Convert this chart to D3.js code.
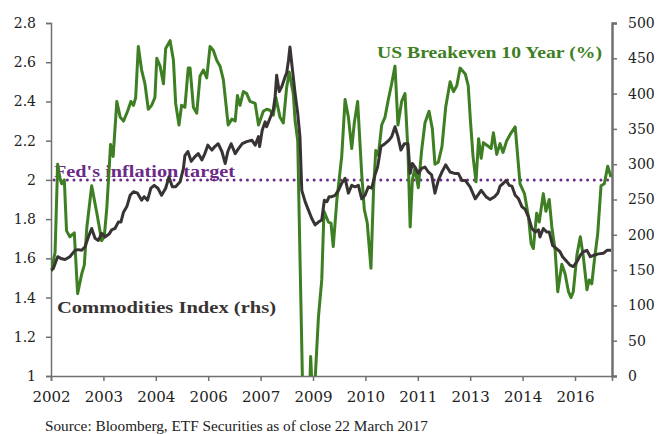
<!DOCTYPE html>
<html>
<head>
<meta charset="utf-8">
<script src="https://cdn.jsdelivr.net/npm/d3@7"></script>
<style>
  body { margin: 0; background: #fff; }
  text { font-family: "DejaVu Serif", "Liberation Serif", serif; }
</style>
</head>
<body>
<div id="chart"></div>
<script>
// US breakeven 10 year (%), left axis
var beDates = [2002.00, 2002.11, 2002.18, 2002.24, 2002.29, 2002.36, 2002.42, 2002.51, 2002.63, 2002.72, 2002.83, 2002.90, 2002.97,
  2003.10, 2003.24, 2003.37, 2003.44, 2003.51, 2003.61, 2003.68, 2003.78, 2003.87, 2003.96,
  2004.07, 2004.16, 2004.23, 2004.29, 2004.36, 2004.45, 2004.54, 2004.63, 2004.72, 2004.81, 2004.86, 2004.95,
  2005.04, 2005.10, 2005.22, 2005.31, 2005.37, 2005.46, 2005.53, 2005.62, 2005.71, 2005.76, 2005.85, 2005.94,
  2006.03, 2006.12, 2006.21, 2006.30, 2006.39, 2006.48, 2006.57, 2006.66, 2006.79, 2006.89, 2006.98,
  2007.04, 2007.11, 2007.20, 2007.29, 2007.38, 2007.52, 2007.61, 2007.74, 2007.83, 2007.92,
  2008.01, 2008.08, 2008.19, 2008.28, 2008.37, 2008.44, 2008.55, 2008.60, 2008.67, 2008.73, 2008.88,
  2009.02, 2009.09, 2009.23, 2009.32, 2009.38, 2009.50, 2009.57, 2009.63, 2009.73, 2009.86, 2009.95,
  2010.04, 2010.13, 2010.20, 2010.29, 2010.40, 2010.47, 2010.55, 2010.65, 2010.72, 2010.78, 2010.85, 2010.94,
  2011.03, 2011.12, 2011.21, 2011.30, 2011.38, 2011.48, 2011.57, 2011.65, 2011.71, 2011.77, 2011.84, 2011.93,
  2012.02, 2012.11, 2012.22, 2012.31, 2012.38, 2012.47, 2012.57, 2012.67, 2012.79, 2012.88, 2012.97,
  2013.06, 2013.20, 2013.28, 2013.34, 2013.41, 2013.49, 2013.56, 2013.63, 2013.69, 2013.83, 2013.90, 2013.96,
  2014.05, 2014.14, 2014.22, 2014.32, 2014.44, 2014.55, 2014.68, 2014.80, 2014.91, 2014.98,
  2015.04, 2015.13, 2015.20, 2015.31, 2015.38, 2015.47, 2015.54, 2015.63, 2015.70, 2015.81, 2015.90, 2015.99,
  2016.06, 2016.12, 2016.22, 2016.31, 2016.39, 2016.49, 2016.55, 2016.62, 2016.69, 2016.78, 2016.87, 2016.96,
  2017.05, 2017.14];
var beValues = [1.53, 1.63, 2.08, 2.01, 1.98, 2.00, 1.74, 1.71, 1.73, 1.42, 1.52, 1.565, 1.76,
  1.97, 1.83, 1.69, 1.71, 1.86, 2.18, 2.12, 2.40, 2.32, 2.30,
  2.35, 2.40, 2.38, 2.42, 2.68, 2.56, 2.49, 2.36, 2.38, 2.42, 2.62, 2.58,
  2.49, 2.67, 2.71, 2.61, 2.39, 2.28, 2.38, 2.37, 2.57, 2.57, 2.37, 2.34,
  2.53, 2.56, 2.52, 2.68, 2.66, 2.61, 2.58, 2.51, 2.28, 2.31, 2.30,
  2.43, 2.38, 2.45, 2.44, 2.40, 2.39, 2.28, 2.35, 2.36, 2.355,
  2.33, 2.42, 2.32, 2.29, 2.47, 2.55, 2.44, 2.30, 2.20, 1.62, 0.2,
  1.10, 0.8, 1.30, 1.49, 1.84, 1.785, 1.78, 1.66, 1.90, 2.12, 2.41,
  2.32, 2.16, 2.29, 2.40, 2.03, 1.85, 1.78, 1.55, 1.95, 2.15, 2.125, 2.28,
  2.32, 2.41, 2.49, 2.58, 2.28, 2.40, 2.44, 2.15, 1.76, 2.00, 2.06, 1.96,
  2.15, 2.29, 2.35, 2.26, 2.08, 2.09, 2.17, 2.37, 2.50, 2.45, 2.48,
  2.57, 2.54, 2.48, 2.30, 2.12, 1.99, 2.21, 2.11, 2.19, 2.17, 2.16, 2.24,
  2.13, 2.185, 2.14, 2.20, 2.24, 2.27, 1.98, 1.93, 1.81, 1.675,
  1.65, 1.83, 1.785, 1.93, 1.84, 1.90, 1.76, 1.64, 1.43, 1.57, 1.52, 1.43,
  1.40, 1.43, 1.62, 1.71, 1.61, 1.44, 1.49, 1.47, 1.59, 1.725, 1.97, 1.98,
  2.07, 2.015];

// Commodities index, right axis
var cmDates = [2002.00, 2002.06, 2002.18, 2002.29, 2002.38, 2002.51, 2002.65, 2002.74, 2002.83, 2002.92,
  2003.01, 2003.10, 2003.19, 2003.28, 2003.37, 2003.46, 2003.57, 2003.64, 2003.73, 2003.82, 2003.89, 2003.96,
  2004.05, 2004.14, 2004.23, 2004.34, 2004.45, 2004.52, 2004.61, 2004.70, 2004.79, 2004.89, 2004.99,
  2005.10, 2005.19, 2005.28, 2005.37, 2005.49, 2005.58, 2005.62, 2005.70, 2005.79, 2005.88, 2005.98,
  2006.08, 2006.16, 2006.24, 2006.35, 2006.43, 2006.52, 2006.62, 2006.71, 2006.78, 2006.87, 2006.98,
  2007.07, 2007.17, 2007.29, 2007.43, 2007.52, 2007.61, 2007.64, 2007.71, 2007.79, 2007.83, 2007.92,
  2008.01, 2008.06, 2008.10, 2008.17, 2008.24, 2008.33, 2008.37, 2008.42, 2008.46, 2008.53, 2008.60, 2008.67, 2008.73, 2008.78, 2008.87, 2008.96,
  2009.05, 2009.14, 2009.23, 2009.32, 2009.39, 2009.46, 2009.52, 2009.59, 2009.68, 2009.77, 2009.86, 2009.95,
  2010.04, 2010.13, 2010.22, 2010.31, 2010.40, 2010.49, 2010.58, 2010.67, 2010.76, 2010.83, 2010.92,
  2011.03, 2011.14, 2011.21, 2011.30, 2011.38, 2011.46, 2011.55, 2011.65, 2011.71, 2011.77, 2011.84, 2011.93,
  2012.02, 2012.11, 2012.20, 2012.29, 2012.38, 2012.47, 2012.57, 2012.67, 2012.79, 2012.91,
  2013.01, 2013.11, 2013.20, 2013.33, 2013.47, 2013.63, 2013.76, 2013.87, 2013.99,
  2014.08, 2014.14, 2014.23, 2014.30, 2014.39, 2014.46, 2014.55, 2014.64, 2014.73, 2014.82, 2014.91,
  2015.00, 2015.09, 2015.18, 2015.22, 2015.31, 2015.40, 2015.47, 2015.56, 2015.65, 2015.76, 2015.83, 2015.95,
  2016.03, 2016.12, 2016.22, 2016.31, 2016.39, 2016.49, 2016.58, 2016.67, 2016.80, 2016.94,
  2017.03, 2017.14];
var cmValues = [150, 152, 169, 166, 165, 169, 178, 179, 178, 183,
  197, 209, 195, 192, 202, 197, 201, 207, 209, 218, 218, 232,
  240, 256, 261, 259, 249, 254, 249, 266, 270, 266, 256,
  266, 282, 268, 268, 275, 294, 312, 318, 304, 310, 315,
  306, 315, 327, 320, 325, 329, 318, 301, 318, 329, 315,
  322, 329, 332, 334, 327, 339, 325, 348, 360, 353, 365,
  377, 396, 426, 403, 410, 424, 429, 447, 466, 433, 400, 372, 339, 263, 247, 235,
  223, 214, 218, 221, 249, 247, 254, 254, 256, 263, 273, 280,
  259, 270, 268, 270, 251, 256, 268, 266, 285, 296, 325,
  329, 334, 339, 353, 339, 320, 329, 329, 287, 301, 296, 287,
  294, 296, 289, 285, 259, 277, 289, 299, 289, 287,
  287, 277, 277, 268, 251, 263, 254, 250, 254,
  259, 269, 273, 277, 270, 269, 256, 251, 240, 236, 225,
  209, 204, 207, 197, 209, 204, 204, 185, 181, 176, 169, 162,
  157, 155, 162, 171, 176, 178, 169, 171, 173, 174,
  178, 178];

var leftTicks = [1, 1.2, 1.4, 1.6, 1.8, 2, 2.2, 2.4, 2.6, 2.8];
var rightTicks = [0, 50, 100, 150, 200, 250, 300, 350, 400, 450, 500];
// x ticks fall every 17 months from Jan 2002, labelled with the year only
var xTickValues = d3.range(0, 11).map(function (k) { return 2002 + k * 17 / 12; });
var xTickLabels = ["2002", "2003", "2004", "2006", "2007", "2009", "2010", "2011", "2013", "2014", "2016"];
var fedTarget = 2;

var width = 659, height = 434;
var margin = { top: 23, right: 47, bottom: 58, left: 51 };

var svg = d3.select("#chart").append("svg")
    .attr("width", width)
    .attr("height", height);

var x = d3.scaleLinear()
    .domain([2002, 2002 + 182 / 12])
    .range([margin.left, width - margin.right]);
var yLeft = d3.scaleLinear()
    .domain([1, 2.8])
    .range([height - margin.bottom, margin.top]);
var yRight = d3.scaleLinear()
    .domain([0, 500])
    .range([height - margin.bottom, margin.top]);

svg.append("clipPath").attr("id", "plot")
  .append("rect")
    .attr("x", margin.left)
    .attr("y", margin.top - 5)
    .attr("width", width - margin.left - margin.right)
    .attr("height", height - margin.top - margin.bottom + 5);

// Axes
var leftAxis = svg.append("g")
    .attr("transform", "translate(" + margin.left + ",0)")
    .call(d3.axisLeft(yLeft).tickValues(leftTicks).tickSize(5).tickPadding(10)
      .tickFormat(function (d) { return d3.format("")(+d.toFixed(1)); }));
var rightAxis = svg.append("g")
    .attr("transform", "translate(" + (width - margin.right) + ",0)")
    .call(d3.axisRight(yRight).tickValues(rightTicks).tickSize(5).tickPadding(11));
var bottomAxis = svg.append("g")
    .attr("transform", "translate(0," + (height - margin.bottom) + ")")
    .call(d3.axisBottom(x).tickValues(xTickValues).tickSize(5).tickPadding(10)
      .tickFormat(function (d, i) { return xTickLabels[i]; }));

[leftAxis, rightAxis, bottomAxis].forEach(function (g) {
  g.select(".domain").attr("stroke", "#707070").attr("stroke-width", 1.5);
  g.selectAll(".tick line").attr("stroke", "#707070").attr("stroke-width", 1.5);
  g.selectAll(".tick text")
    .attr("fill", "#222")
    .style("font-size", "14px")
    .style("font-family", "'DejaVu Serif', serif");
});
rightAxis.select(".domain").attr("stroke-width", 2.5);
bottomAxis.selectAll(".tick text").style("font-size", "15px");

// Fed's target
svg.append("text")
    .attr("x", 54)
    .attr("y", 177)
    .attr("fill", "#6b2a88")
    .attr("font-weight", "bold")
    .attr("font-size", 17)
    .attr("textLength", 181)
    .attr("lengthAdjust", "spacingAndGlyphs")
    .style("font-family", "'Liberation Serif', serif")
    .text("Fed's inflation target");

svg.append("line")
    .attr("x1", margin.left + 3)
    .attr("x2", width - margin.right)
    .attr("y1", yLeft(fedTarget))
    .attr("y2", yLeft(fedTarget))
    .attr("stroke", "#6b2a88")
    .attr("stroke-width", 3)
    .attr("stroke-linecap", "round")
    .attr("stroke-dasharray", "0 6.67");

// Series
var beData = beDates.map(function (d, i) { return [d, beValues[i]]; });
var cmData = cmDates.map(function (d, i) { return [d, cmValues[i]]; });

svg.append("path")
    .datum(beData)
    .attr("clip-path", "url(#plot)")
    .attr("fill", "none")
    .attr("stroke", "#3d7f22")
    .attr("stroke-width", 3)
    .attr("stroke-linejoin", "round")
    .attr("d", d3.line().x(function (d) { return x(d[0]); }).y(function (d) { return yLeft(d[1]); }));

svg.append("path")
    .datum(cmData)
    .attr("fill", "none")
    .attr("stroke", "#393434")
    .attr("stroke-width", 3)
    .attr("stroke-linejoin", "round")
    .attr("d", d3.line().x(function (d) { return x(d[0]); }).y(function (d) { return yRight(d[1]); }));

// Series labels
svg.append("text")
    .attr("x", 377)
    .attr("y", 58)
    .attr("fill", "#3d7f22")
    .attr("font-weight", "bold")
    .attr("font-size", 17)
    .attr("textLength", 225)
    .attr("lengthAdjust", "spacingAndGlyphs")
    .style("font-family", "'Liberation Serif', serif")
    .text("US Breakeven 10 Year (%)");

svg.append("text")
    .attr("x", 57)
    .attr("y", 313)
    .attr("fill", "#393434")
    .attr("font-weight", "bold")
    .attr("font-size", 17)
    .attr("textLength", 219)
    .attr("lengthAdjust", "spacingAndGlyphs")
    .style("font-family", "'Liberation Serif', serif")
    .text("Commodities Index (rhs)");

// Source
svg.append("text")
    .attr("x", 45)
    .attr("y", 431)
    .attr("fill", "#222")
    .attr("font-size", 14)
    .attr("textLength", 383)
    .attr("lengthAdjust", "spacingAndGlyphs")
    .style("font-family", "'Liberation Serif', serif")
    .text("Source: Bloomberg, ETF Securities as of close 22 March 2017");
</script>
</body>
</html>
